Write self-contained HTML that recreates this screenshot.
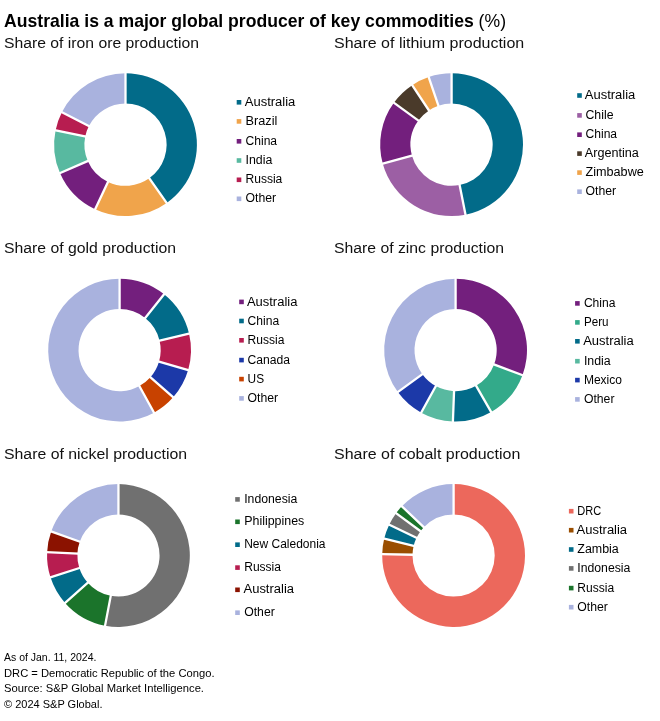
<!DOCTYPE html>
<html><head><meta charset="utf-8"><title>Australia is a major global producer of key commodities</title>
<style>
html,body{margin:0;padding:0;background:#fff;}
body{width:660px;height:721px;overflow:hidden;font-family:"Liberation Sans",sans-serif;}
svg{display:block;will-change:transform;}
text{font-family:"Liberation Sans",sans-serif;fill:#000;}
.t{font-size:17.7px;font-weight:bold;}
.s{font-size:15.1px;fill:#111;}
.l{font-size:12px;}
.f{font-size:10.4px;}
</style></head><body>
<svg width="660" height="721" viewBox="0 0 660 721">
<rect width="660" height="721" fill="#fff"/>
<text class="t" x="4" y="27.2" textLength="502" lengthAdjust="spacingAndGlyphs">Australia is a major global producer of key commodities<tspan style="font-weight:normal"> (%)</tspan></text>

<text class="s" x="4" y="47.7" textLength="195.0" lengthAdjust="spacingAndGlyphs">Share of iron ore production</text>
<g>
<path d="M125.50,73.30A71.4,71.4 0 0 1 166.74,202.99L149.24,178.25A41.1,41.1 0 0 0 125.50,103.60Z" fill="#026B89"/>
<path d="M166.74,202.99A71.4,71.4 0 0 1 95.10,209.30L108.00,181.89A41.1,41.1 0 0 0 149.24,178.25Z" fill="#F0A44B"/>
<path d="M95.10,209.30A71.4,71.4 0 0 1 59.97,173.06L87.78,161.02A41.1,41.1 0 0 0 108.00,181.89Z" fill="#731F7D"/>
<path d="M59.97,173.06A71.4,71.4 0 0 1 55.54,130.44L85.23,136.49A41.1,41.1 0 0 0 87.78,161.02Z" fill="#58B9A0"/>
<path d="M55.54,130.44A71.4,71.4 0 0 1 61.88,112.29L88.88,126.04A41.1,41.1 0 0 0 85.23,136.49Z" fill="#B71D50"/>
<path d="M61.88,112.29A71.4,71.4 0 0 1 125.50,73.30L125.50,103.60A41.1,41.1 0 0 0 88.88,126.04Z" fill="#A9B2DE"/>
<path d="M125.50,104.60L125.50,72.30M148.66,177.44L167.32,203.80M108.43,180.98L94.67,210.21M88.70,160.63L59.05,173.45M86.21,136.69L54.56,130.24M89.77,126.49L60.99,111.83" fill="none" stroke="#fff" stroke-width="2.3"/>
</g>
<rect x="236.7" y="100.0" width="4.6" height="4.6" fill="#026B89"/>
<text class="l" x="244.8" y="105.9" textLength="50.5" lengthAdjust="spacingAndGlyphs">Australia</text>
<rect x="236.7" y="119.1" width="4.6" height="4.6" fill="#F0A44B"/>
<text class="l" x="245.5" y="125.0" textLength="31.8" lengthAdjust="spacingAndGlyphs">Brazil</text>
<rect x="236.7" y="139.0" width="4.6" height="4.6" fill="#731F7D"/>
<text class="l" x="245.5" y="144.9" textLength="31.6" lengthAdjust="spacingAndGlyphs">China</text>
<rect x="236.7" y="158.2" width="4.6" height="4.6" fill="#58B9A0"/>
<text class="l" x="245.5" y="164.1" textLength="26.8" lengthAdjust="spacingAndGlyphs">India</text>
<rect x="236.7" y="177.5" width="4.6" height="4.6" fill="#B71D50"/>
<text class="l" x="245.5" y="183.4" textLength="36.8" lengthAdjust="spacingAndGlyphs">Russia</text>
<rect x="236.7" y="196.5" width="4.6" height="4.6" fill="#A9B2DE"/>
<text class="l" x="245.5" y="202.4" textLength="30.6" lengthAdjust="spacingAndGlyphs">Other</text>
<text class="s" x="334" y="47.7" textLength="190.2" lengthAdjust="spacingAndGlyphs">Share of lithium production</text>
<g>
<path d="M451.60,73.30A71.4,71.4 0 0 1 465.52,214.73L459.61,185.01A41.1,41.1 0 0 0 451.60,103.60Z" fill="#026B89"/>
<path d="M465.52,214.73A71.4,71.4 0 0 1 382.77,163.69L411.98,155.63A41.1,41.1 0 0 0 459.61,185.01Z" fill="#9C5FA4"/>
<path d="M382.77,163.69A71.4,71.4 0 0 1 393.86,102.70L418.36,120.53A41.1,41.1 0 0 0 411.98,155.63Z" fill="#731F7D"/>
<path d="M393.86,102.70A71.4,71.4 0 0 1 412.23,85.14L428.94,110.41A41.1,41.1 0 0 0 418.36,120.53Z" fill="#4A3A2A"/>
<path d="M412.23,85.14A71.4,71.4 0 0 1 428.70,77.07L438.42,105.77A41.1,41.1 0 0 0 428.94,110.41Z" fill="#F0A44B"/>
<path d="M428.70,77.07A71.4,71.4 0 0 1 451.60,73.30L451.60,103.60A41.1,41.1 0 0 0 438.42,105.77Z" fill="#A9B2DE"/>
<path d="M451.60,104.60L451.60,72.30M459.42,184.03L465.72,215.71M412.94,155.37L381.81,163.96M419.17,121.11L393.05,102.12M429.49,111.25L411.68,84.30M438.74,106.72L428.37,76.13" fill="none" stroke="#fff" stroke-width="2.3"/>
</g>
<rect x="577.2" y="93.2" width="4.6" height="4.6" fill="#026B89"/>
<text class="l" x="584.8" y="99.1" textLength="50.5" lengthAdjust="spacingAndGlyphs">Australia</text>
<rect x="577.2" y="113.1" width="4.6" height="4.6" fill="#9C5FA4"/>
<text class="l" x="585.5" y="119.0" textLength="28.0" lengthAdjust="spacingAndGlyphs">Chile</text>
<rect x="577.2" y="132.4" width="4.6" height="4.6" fill="#731F7D"/>
<text class="l" x="585.5" y="138.3" textLength="31.6" lengthAdjust="spacingAndGlyphs">China</text>
<rect x="577.2" y="151.3" width="4.6" height="4.6" fill="#4A3A2A"/>
<text class="l" x="584.8" y="157.2" textLength="54.1" lengthAdjust="spacingAndGlyphs">Argentina</text>
<rect x="577.2" y="170.3" width="4.6" height="4.6" fill="#F0A44B"/>
<text class="l" x="585.5" y="176.2" textLength="58.3" lengthAdjust="spacingAndGlyphs">Zimbabwe</text>
<rect x="577.2" y="189.4" width="4.6" height="4.6" fill="#A9B2DE"/>
<text class="l" x="585.5" y="195.3" textLength="30.6" lengthAdjust="spacingAndGlyphs">Other</text>
<text class="s" x="4" y="252.9" textLength="172.0" lengthAdjust="spacingAndGlyphs">Share of gold production</text>
<g>
<path d="M119.60,278.70A71.4,71.4 0 0 1 164.07,294.24L145.20,317.94A41.1,41.1 0 0 0 119.60,309.00Z" fill="#731F7D"/>
<path d="M164.07,294.24A71.4,71.4 0 0 1 189.08,333.65L159.59,340.63A41.1,41.1 0 0 0 145.20,317.94Z" fill="#026B89"/>
<path d="M189.08,333.65A71.4,71.4 0 0 1 188.16,370.02L159.07,361.57A41.1,41.1 0 0 0 159.59,340.63Z" fill="#B71D50"/>
<path d="M188.16,370.02A71.4,71.4 0 0 1 173.16,397.32L150.43,377.28A41.1,41.1 0 0 0 159.07,361.57Z" fill="#1C39A8"/>
<path d="M173.16,397.32A71.4,71.4 0 0 1 154.00,412.67L139.40,386.12A41.1,41.1 0 0 0 150.43,377.28Z" fill="#C84200"/>
<path d="M154.00,412.67A71.4,71.4 0 1 1 119.60,278.70L119.60,309.00A41.1,41.1 0 1 0 139.40,386.12Z" fill="#A9B2DE"/>
<path d="M119.60,310.00L119.60,277.70M144.57,318.73L164.69,293.45M158.62,340.86L190.05,333.42M158.11,361.29L189.13,370.30M149.68,376.62L173.91,397.98M138.92,385.24L154.48,413.54" fill="none" stroke="#fff" stroke-width="2.3"/>
</g>
<rect x="239.2" y="299.6" width="4.6" height="4.6" fill="#731F7D"/>
<text class="l" x="246.9" y="305.5" textLength="50.5" lengthAdjust="spacingAndGlyphs">Australia</text>
<rect x="239.2" y="318.7" width="4.6" height="4.6" fill="#026B89"/>
<text class="l" x="247.6" y="324.6" textLength="31.6" lengthAdjust="spacingAndGlyphs">China</text>
<rect x="239.2" y="338.0" width="4.6" height="4.6" fill="#B71D50"/>
<text class="l" x="247.6" y="343.9" textLength="36.8" lengthAdjust="spacingAndGlyphs">Russia</text>
<rect x="239.2" y="357.8" width="4.6" height="4.6" fill="#1C39A8"/>
<text class="l" x="247.6" y="363.7" textLength="42.5" lengthAdjust="spacingAndGlyphs">Canada</text>
<rect x="239.2" y="376.8" width="4.6" height="4.6" fill="#C84200"/>
<text class="l" x="247.6" y="382.7" textLength="16.5" lengthAdjust="spacingAndGlyphs">US</text>
<rect x="239.2" y="396.1" width="4.6" height="4.6" fill="#A9B2DE"/>
<text class="l" x="247.6" y="402.0" textLength="30.6" lengthAdjust="spacingAndGlyphs">Other</text>
<text class="s" x="334" y="252.9" textLength="170.0" lengthAdjust="spacingAndGlyphs">Share of zinc production</text>
<g>
<path d="M455.60,278.70A71.4,71.4 0 0 1 522.47,375.13L494.09,364.51A41.1,41.1 0 0 0 455.60,309.00Z" fill="#731F7D"/>
<path d="M522.47,375.13A71.4,71.4 0 0 1 491.17,412.01L476.08,385.74A41.1,41.1 0 0 0 494.09,364.51Z" fill="#33AA8A"/>
<path d="M491.17,412.01A71.4,71.4 0 0 1 452.91,421.45L454.05,391.17A41.1,41.1 0 0 0 476.08,385.74Z" fill="#026B89"/>
<path d="M452.91,421.45A71.4,71.4 0 0 1 421.20,412.67L435.80,386.12A41.1,41.1 0 0 0 454.05,391.17Z" fill="#58B9A0"/>
<path d="M421.20,412.67A71.4,71.4 0 0 1 397.84,392.07L422.35,374.26A41.1,41.1 0 0 0 435.80,386.12Z" fill="#1C39A8"/>
<path d="M397.84,392.07A71.4,71.4 0 0 1 455.60,278.70L455.60,309.00A41.1,41.1 0 0 0 422.35,374.26Z" fill="#A9B2DE"/>
<path d="M455.60,310.00L455.60,277.70M493.16,364.16L523.41,375.48M475.58,384.87L491.67,412.88M454.09,390.17L452.87,422.45M436.28,385.24L420.72,413.54M423.16,373.67L397.03,392.66" fill="none" stroke="#fff" stroke-width="2.3"/>
</g>
<rect x="575.1" y="301.1" width="4.6" height="4.6" fill="#731F7D"/>
<text class="l" x="583.9" y="307.0" textLength="31.6" lengthAdjust="spacingAndGlyphs">China</text>
<rect x="575.1" y="320.1" width="4.6" height="4.6" fill="#33AA8A"/>
<text class="l" x="583.9" y="326.0" textLength="24.6" lengthAdjust="spacingAndGlyphs">Peru</text>
<rect x="575.1" y="339.0" width="4.6" height="4.6" fill="#026B89"/>
<text class="l" x="583.2" y="344.9" textLength="50.5" lengthAdjust="spacingAndGlyphs">Australia</text>
<rect x="575.1" y="358.9" width="4.6" height="4.6" fill="#58B9A0"/>
<text class="l" x="583.9" y="364.8" textLength="26.8" lengthAdjust="spacingAndGlyphs">India</text>
<rect x="575.1" y="377.8" width="4.6" height="4.6" fill="#1C39A8"/>
<text class="l" x="583.9" y="383.7" textLength="38.1" lengthAdjust="spacingAndGlyphs">Mexico</text>
<rect x="575.1" y="397.1" width="4.6" height="4.6" fill="#A9B2DE"/>
<text class="l" x="583.9" y="403.0" textLength="30.6" lengthAdjust="spacingAndGlyphs">Other</text>
<text class="s" x="4" y="459.0" textLength="183.1" lengthAdjust="spacingAndGlyphs">Share of nickel production</text>
<g>
<path d="M118.45,484.10A71.4,71.4 0 1 1 105.07,625.64L110.75,595.87A41.1,41.1 0 1 0 118.45,514.40Z" fill="#707070"/>
<path d="M105.07,625.64A71.4,71.4 0 0 1 65.04,602.89L87.71,582.78A41.1,41.1 0 0 0 110.75,595.87Z" fill="#1B742B"/>
<path d="M65.04,602.89A71.4,71.4 0 0 1 50.48,577.35L79.32,568.08A41.1,41.1 0 0 0 87.71,582.78Z" fill="#026B89"/>
<path d="M50.48,577.35A71.4,71.4 0 0 1 47.13,552.14L77.40,553.56A41.1,41.1 0 0 0 79.32,568.08Z" fill="#B71D50"/>
<path d="M47.13,552.14A71.4,71.4 0 0 1 51.20,531.53L79.74,541.70A41.1,41.1 0 0 0 77.40,553.56Z" fill="#8B1200"/>
<path d="M51.20,531.53A71.4,71.4 0 0 1 118.45,484.10L118.45,514.40A41.1,41.1 0 0 0 79.74,541.70Z" fill="#A9B2DE"/>
<path d="M118.45,515.40L118.45,483.10M110.94,594.89L104.88,626.62M88.45,582.11L64.29,603.55M80.27,567.77L49.52,577.66M78.39,553.61L46.13,552.09M80.68,542.04L50.25,531.19" fill="none" stroke="#fff" stroke-width="2.3"/>
</g>
<rect x="235.2" y="497.1" width="4.6" height="4.6" fill="#707070"/>
<text class="l" x="244.2" y="503.0" textLength="53.1" lengthAdjust="spacingAndGlyphs">Indonesia</text>
<rect x="235.2" y="519.5" width="4.6" height="4.6" fill="#1B742B"/>
<text class="l" x="244.2" y="525.4" textLength="60.1" lengthAdjust="spacingAndGlyphs">Philippines</text>
<rect x="235.2" y="542.4" width="4.6" height="4.6" fill="#026B89"/>
<text class="l" x="244.2" y="548.3" textLength="81.3" lengthAdjust="spacingAndGlyphs">New Caledonia</text>
<rect x="235.2" y="565.3" width="4.6" height="4.6" fill="#B71D50"/>
<text class="l" x="244.2" y="571.2" textLength="36.8" lengthAdjust="spacingAndGlyphs">Russia</text>
<rect x="235.2" y="587.5" width="4.6" height="4.6" fill="#8B1200"/>
<text class="l" x="243.5" y="593.4" textLength="50.5" lengthAdjust="spacingAndGlyphs">Australia</text>
<rect x="235.2" y="610.4" width="4.6" height="4.6" fill="#A9B2DE"/>
<text class="l" x="244.2" y="616.3" textLength="30.6" lengthAdjust="spacingAndGlyphs">Other</text>
<text class="s" x="334" y="459.0" textLength="186.3" lengthAdjust="spacingAndGlyphs">Share of cobalt production</text>
<g>
<path d="M453.60,484.10A71.4,71.4 0 1 1 382.21,554.15L412.51,554.73A41.1,41.1 0 1 0 453.60,514.40Z" fill="#EC685C"/>
<path d="M382.21,554.15A71.4,71.4 0 0 1 384.23,538.61L413.67,545.78A41.1,41.1 0 0 0 412.51,554.73Z" fill="#9A4E00"/>
<path d="M384.23,538.61A71.4,71.4 0 0 1 389.19,524.69L416.52,537.77A41.1,41.1 0 0 0 413.67,545.78Z" fill="#026B89"/>
<path d="M389.19,524.69A71.4,71.4 0 0 1 396.10,513.17L420.50,531.13A41.1,41.1 0 0 0 416.52,537.77Z" fill="#707070"/>
<path d="M396.10,513.17A71.4,71.4 0 0 1 401.86,506.30L423.82,527.18A41.1,41.1 0 0 0 420.50,531.13Z" fill="#1B742B"/>
<path d="M401.86,506.30A71.4,71.4 0 0 1 453.60,484.10L453.60,514.40A41.1,41.1 0 0 0 423.82,527.18Z" fill="#A9B2DE"/>
<path d="M453.60,515.40L453.60,483.10M413.51,554.74L381.21,554.14M414.64,546.02L383.25,538.38M417.42,538.20L388.29,524.26M421.31,531.73L395.30,512.58M424.54,527.87L401.14,505.61" fill="none" stroke="#fff" stroke-width="2.3"/>
</g>
<rect x="568.9" y="508.9" width="4.6" height="4.6" fill="#EC685C"/>
<text class="l" x="577.3" y="514.8" textLength="23.9" lengthAdjust="spacingAndGlyphs">DRC</text>
<rect x="568.9" y="527.9" width="4.6" height="4.6" fill="#9A4E00"/>
<text class="l" x="576.6" y="533.8" textLength="50.5" lengthAdjust="spacingAndGlyphs">Australia</text>
<rect x="568.9" y="547.2" width="4.6" height="4.6" fill="#026B89"/>
<text class="l" x="577.3" y="553.1" textLength="41.5" lengthAdjust="spacingAndGlyphs">Zambia</text>
<rect x="568.9" y="566.1" width="4.6" height="4.6" fill="#707070"/>
<text class="l" x="577.3" y="572.0" textLength="53.1" lengthAdjust="spacingAndGlyphs">Indonesia</text>
<rect x="568.9" y="585.8" width="4.6" height="4.6" fill="#1B742B"/>
<text class="l" x="577.3" y="591.7" textLength="36.8" lengthAdjust="spacingAndGlyphs">Russia</text>
<rect x="568.9" y="604.9" width="4.6" height="4.6" fill="#A9B2DE"/>
<text class="l" x="577.3" y="610.8" textLength="30.6" lengthAdjust="spacingAndGlyphs">Other</text>
<text class="f" x="4" y="660.7" textLength="92.4" lengthAdjust="spacingAndGlyphs">As of Jan. 11, 2024.</text>
<text class="f" x="4" y="676.5" textLength="210.5" lengthAdjust="spacingAndGlyphs">DRC = Democratic Republic of the Congo.</text>
<text class="f" x="4" y="692" textLength="200" lengthAdjust="spacingAndGlyphs">Source: S&amp;P Global Market Intelligence.</text>
<text class="f" x="4" y="707.8" textLength="98.5" lengthAdjust="spacingAndGlyphs">© 2024 S&amp;P Global.</text>
</svg></body></html>
